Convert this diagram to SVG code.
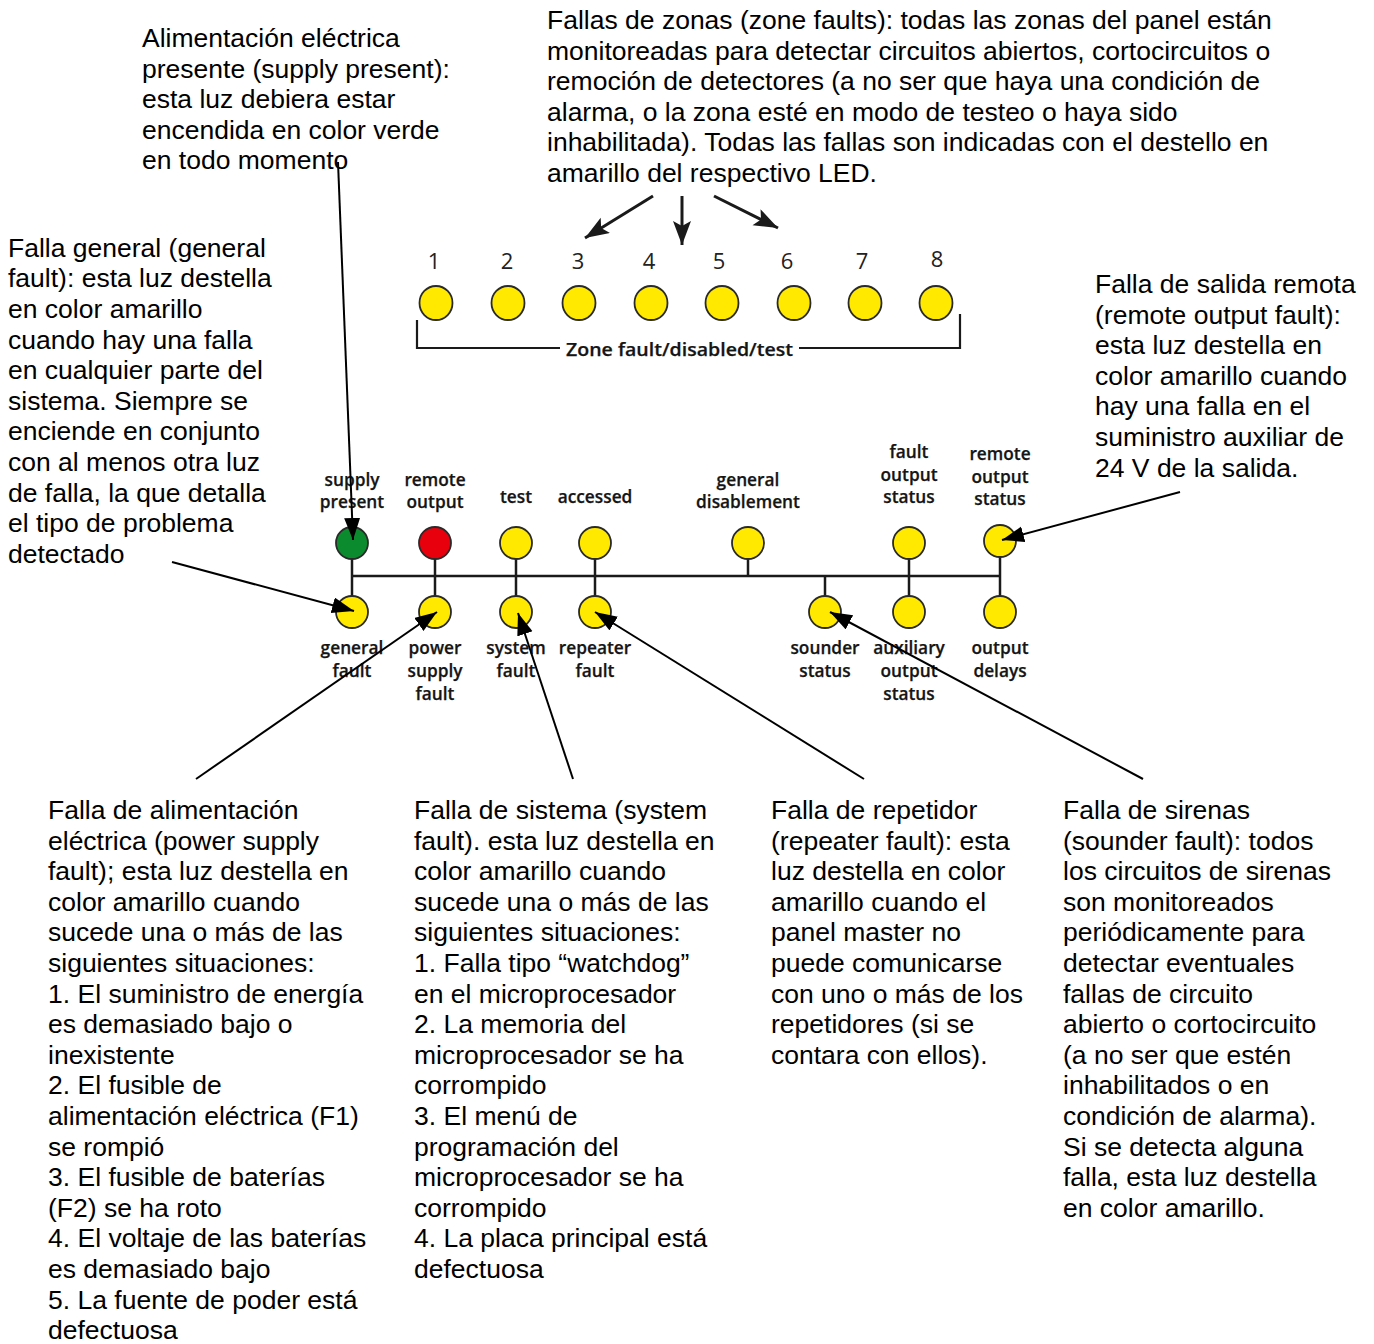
<svg xmlns="http://www.w3.org/2000/svg" width="1374" height="1344" viewBox="0 0 1374 1344">
  <style>
    .note { font-family: "Liberation Sans", Arial, sans-serif; font-size: 26.5px; fill: #000; }
    .lbl { font-family: "Open Sans", "Noto Sans", sans-serif; font-weight: 600; font-size: 17.3px; fill: #151515; text-anchor: middle; stroke: #151515; stroke-width: 0.25; }
    .num { font-family: "Open Sans", "Noto Sans", sans-serif; font-size: 22px; fill: #222; text-anchor: middle; }
    .led { stroke: #2a2a2a; stroke-width: 1.8; }
    .y { fill: #ffe900; }
    .g { fill: #0c8a2e; }
    .r { fill: #e8000c; }
    .wire { stroke: #1a1a1a; stroke-width: 2.5; fill: none; }
    .bracket { stroke: #1a1a1a; stroke-width: 2.2; fill: none; }
    .arrow { stroke: #000; stroke-width: 2; fill: none; marker-end: url(#head); }
    .zarrow { stroke: #1a1a1a; stroke-width: 3; fill: none; marker-end: url(#zhead); }
  </style>
  <defs>
    <marker id="head" markerUnits="userSpaceOnUse" markerWidth="24" markerHeight="18" refX="22" refY="8" orient="auto">
      <path d="M0,0 L22,8 L0,16 z" fill="#000"/>
    </marker>
    <marker id="zhead" markerUnits="userSpaceOnUse" markerWidth="26" markerHeight="20" refX="24" refY="9" orient="auto">
      <path d="M0,0 L24,9 L0,18 L5,9 z" fill="#1a1a1a"/>
    </marker>
  </defs>
  <rect width="1374" height="1344" fill="#fff"/>

  <!-- Zone LED row -->
  <g id="zone-leds">
    <g id="zone-1"><text class="num" x="434" y="269">1</text><ellipse class="led y" cx="436" cy="303" rx="16.5" ry="17"/></g>
    <g id="zone-2"><text class="num" x="507" y="269">2</text><ellipse class="led y" cx="508" cy="303" rx="16.5" ry="17"/></g>
    <g id="zone-3"><text class="num" x="578" y="269">3</text><ellipse class="led y" cx="579" cy="303" rx="16.5" ry="17"/></g>
    <g id="zone-4"><text class="num" x="649" y="269">4</text><ellipse class="led y" cx="651" cy="303" rx="16.5" ry="17"/></g>
    <g id="zone-5"><text class="num" x="719" y="269">5</text><ellipse class="led y" cx="722" cy="303" rx="16.5" ry="17"/></g>
    <g id="zone-6"><text class="num" x="787" y="269">6</text><ellipse class="led y" cx="794" cy="303" rx="16.5" ry="17"/></g>
    <g id="zone-7"><text class="num" x="862" y="269">7</text><ellipse class="led y" cx="865" cy="303" rx="16.5" ry="17"/></g>
    <g id="zone-8"><text class="num" x="937" y="267">8</text><ellipse class="led y" cx="936" cy="303" rx="16.5" ry="17"/></g>
    <g id="zone-bracket">
      <polyline class="bracket" points="417,320 417,348 560,348"/>
      <polyline class="bracket" points="799,348 960,348 960,314"/>
      <text class="lbl" x="679.5" y="356" font-size="19" textLength="227" lengthAdjust="spacingAndGlyphs">Zone fault/disabled/test</text>
    </g>
  </g>

  <!-- Panel wiring (drawn under the LEDs) -->
  <g id="bus">
    <line class="wire" x1="352" y1="576" x2="1000" y2="576"/>
    <line class="wire" x1="352" y1="543" x2="352" y2="612"/>
    <line class="wire" x1="435" y1="543" x2="435" y2="612"/>
    <line class="wire" x1="516" y1="543" x2="516" y2="612"/>
    <line class="wire" x1="595" y1="543" x2="595" y2="612"/>
    <line class="wire" x1="748" y1="543" x2="748" y2="576"/>
    <line class="wire" x1="825" y1="576" x2="825" y2="612"/>
    <line class="wire" x1="909" y1="543" x2="909" y2="612"/>
    <line class="wire" x1="1000" y1="541" x2="1000" y2="612"/>
  </g>

  <!-- Panel LEDs, top row -->
  <g id="led-supply-present"><text class="lbl" x="352" y="486">supply</text><text class="lbl" x="352" y="508">present</text><circle class="led g" cx="352" cy="543" r="16"/></g>
  <g id="led-remote-output"><text class="lbl" x="435" y="486">remote</text><text class="lbl" x="435" y="508">output</text><circle class="led r" cx="435" cy="543" r="16"/></g>
  <g id="led-test"><text class="lbl" x="516" y="503">test</text><circle class="led y" cx="516" cy="543" r="16"/></g>
  <g id="led-accessed"><text class="lbl" x="595" y="503">accessed</text><circle class="led y" cx="595" cy="543" r="16"/></g>
  <g id="led-general-disablement"><text class="lbl" x="748" y="486">general</text><text class="lbl" x="748" y="508">disablement</text><circle class="led y" cx="748" cy="543" r="16"/></g>
  <g id="led-fault-output-status"><text class="lbl" x="909" y="458">fault</text><text class="lbl" x="909" y="481">output</text><text class="lbl" x="909" y="503">status</text><circle class="led y" cx="909" cy="543" r="16"/></g>
  <g id="led-remote-output-status"><text class="lbl" x="1000" y="460">remote</text><text class="lbl" x="1000" y="483">output</text><text class="lbl" x="1000" y="505">status</text><circle class="led y" cx="1000" cy="541" r="16"/></g>

  <!-- Panel LEDs, bottom row -->
  <g id="led-general-fault"><circle class="led y" cx="352" cy="612" r="16"/><text class="lbl" x="352" y="654">general</text><text class="lbl" x="352" y="677">fault</text></g>
  <g id="led-power-supply-fault"><circle class="led y" cx="435" cy="612" r="16"/><text class="lbl" x="435" y="654">power</text><text class="lbl" x="435" y="677">supply</text><text class="lbl" x="435" y="700">fault</text></g>
  <g id="led-system-fault"><circle class="led y" cx="516" cy="612" r="16"/><text class="lbl" x="516" y="654">system</text><text class="lbl" x="516" y="677">fault</text></g>
  <g id="led-repeater-fault"><circle class="led y" cx="595" cy="612" r="16"/><text class="lbl" x="595" y="654">repeater</text><text class="lbl" x="595" y="677">fault</text></g>
  <g id="led-sounder-status"><circle class="led y" cx="825" cy="612" r="16"/><text class="lbl" x="825" y="654">sounder</text><text class="lbl" x="825" y="677">status</text></g>
  <g id="led-auxiliary-output-status"><circle class="led y" cx="909" cy="612" r="16"/><text class="lbl" x="909" y="654">auxiliary</text><text class="lbl" x="909" y="677">output</text><text class="lbl" x="909" y="700">status</text></g>
  <g id="led-output-delays"><circle class="led y" cx="1000" cy="612" r="16"/><text class="lbl" x="1000" y="654">output</text><text class="lbl" x="1000" y="677">delays</text></g>

  <!-- Explanatory notes -->
  <g id="note-supply-present">
    <text class="note" x="142" y="47">Alimentación eléctrica</text>
    <text class="note" x="142" y="77.6">presente (supply present):</text>
    <text class="note" x="142" y="108.2">esta luz debiera estar</text>
    <text class="note" x="142" y="138.8">encendida en color verde</text>
    <text class="note" x="142" y="169.4">en todo momento</text>
  </g>
  <g id="note-zone-faults">
    <text class="note" x="547" y="29">Fallas de zonas (zone faults): todas las zonas del panel están</text>
    <text class="note" x="547" y="59.6">monitoreadas para detectar circuitos abiertos, cortocircuitos o</text>
    <text class="note" x="547" y="90.2">remoción de detectores (a no ser que haya una condición de</text>
    <text class="note" x="547" y="120.8">alarma, o la zona esté en modo de testeo o haya sido</text>
    <text class="note" x="547" y="151.4">inhabilitada). Todas las fallas son indicadas con el destello en</text>
    <text class="note" x="547" y="182">amarillo del respectivo LED.</text>
  </g>
  <g id="note-general-fault">
    <text class="note" x="8" y="256.7">Falla general (general</text>
    <text class="note" x="8" y="287.3">fault): esta luz destella</text>
    <text class="note" x="8" y="317.9">en color amarillo</text>
    <text class="note" x="8" y="348.5">cuando hay una falla</text>
    <text class="note" x="8" y="379.1">en cualquier parte del</text>
    <text class="note" x="8" y="409.7">sistema. Siempre se</text>
    <text class="note" x="8" y="440.3">enciende en conjunto</text>
    <text class="note" x="8" y="470.9">con al menos otra luz</text>
    <text class="note" x="8" y="501.5">de falla, la que detalla</text>
    <text class="note" x="8" y="532.1">el tipo de problema</text>
    <text class="note" x="8" y="562.7">detectado</text>
  </g>
  <g id="note-remote-output-fault">
    <text class="note" x="1095" y="293">Falla de salida remota</text>
    <text class="note" x="1095" y="323.6">(remote output fault):</text>
    <text class="note" x="1095" y="354.2">esta luz destella en</text>
    <text class="note" x="1095" y="384.8">color amarillo cuando</text>
    <text class="note" x="1095" y="415.4">hay una falla en el</text>
    <text class="note" x="1095" y="446">suministro auxiliar de</text>
    <text class="note" x="1095" y="476.6">24 V de la salida.</text>
  </g>
  <g id="note-power-supply-fault">
    <text class="note" x="48" y="819">Falla de alimentación</text>
    <text class="note" x="48" y="849.6">eléctrica (power supply</text>
    <text class="note" x="48" y="880.2">fault); esta luz destella en</text>
    <text class="note" x="48" y="910.8">color amarillo cuando</text>
    <text class="note" x="48" y="941.4">sucede una o más de las</text>
    <text class="note" x="48" y="972">siguientes situaciones:</text>
    <text class="note" x="48" y="1002.6">1. El suministro de energía</text>
    <text class="note" x="48" y="1033.2">es demasiado bajo o</text>
    <text class="note" x="48" y="1063.8">inexistente</text>
    <text class="note" x="48" y="1094.4">2. El fusible de</text>
    <text class="note" x="48" y="1125">alimentación eléctrica (F1)</text>
    <text class="note" x="48" y="1155.6">se rompió</text>
    <text class="note" x="48" y="1186.2">3. El fusible de baterías</text>
    <text class="note" x="48" y="1216.8">(F2) se ha roto</text>
    <text class="note" x="48" y="1247.4">4. El voltaje de las baterías</text>
    <text class="note" x="48" y="1278">es demasiado bajo</text>
    <text class="note" x="48" y="1308.6">5. La fuente de poder está</text>
    <text class="note" x="48" y="1339.2">defectuosa</text>
  </g>
  <g id="note-system-fault">
    <text class="note" x="414" y="819">Falla de sistema (system</text>
    <text class="note" x="414" y="849.6">fault). esta luz destella en</text>
    <text class="note" x="414" y="880.2">color amarillo cuando</text>
    <text class="note" x="414" y="910.8">sucede una o más de las</text>
    <text class="note" x="414" y="941.4">siguientes situaciones:</text>
    <text class="note" x="414" y="972">1. Falla tipo “watchdog”</text>
    <text class="note" x="414" y="1002.6">en el microprocesador</text>
    <text class="note" x="414" y="1033.2">2. La memoria del</text>
    <text class="note" x="414" y="1063.8">microprocesador se ha</text>
    <text class="note" x="414" y="1094.4">corrompido</text>
    <text class="note" x="414" y="1125">3. El menú de</text>
    <text class="note" x="414" y="1155.6">programación del</text>
    <text class="note" x="414" y="1186.2">microprocesador se ha</text>
    <text class="note" x="414" y="1216.8">corrompido</text>
    <text class="note" x="414" y="1247.4">4. La placa principal está</text>
    <text class="note" x="414" y="1278">defectuosa</text>
  </g>
  <g id="note-repeater-fault">
    <text class="note" x="771" y="819">Falla de repetidor</text>
    <text class="note" x="771" y="849.6">(repeater fault): esta</text>
    <text class="note" x="771" y="880.2">luz destella en color</text>
    <text class="note" x="771" y="910.8">amarillo cuando el</text>
    <text class="note" x="771" y="941.4">panel master no</text>
    <text class="note" x="771" y="972">puede comunicarse</text>
    <text class="note" x="771" y="1002.6">con uno o más de los</text>
    <text class="note" x="771" y="1033.2">repetidores (si se</text>
    <text class="note" x="771" y="1063.8">contara con ellos).</text>
  </g>
  <g id="note-sounder-fault">
    <text class="note" x="1063" y="819">Falla de sirenas</text>
    <text class="note" x="1063" y="849.6">(sounder fault): todos</text>
    <text class="note" x="1063" y="880.2">los circuitos de sirenas</text>
    <text class="note" x="1063" y="910.8">son monitoreados</text>
    <text class="note" x="1063" y="941.4">periódicamente para</text>
    <text class="note" x="1063" y="972">detectar eventuales</text>
    <text class="note" x="1063" y="1002.6">fallas de circuito</text>
    <text class="note" x="1063" y="1033.2">abierto o cortocircuito</text>
    <text class="note" x="1063" y="1063.8">(a no ser que estén</text>
    <text class="note" x="1063" y="1094.4">inhabilitados o en</text>
    <text class="note" x="1063" y="1125">condición de alarma).</text>
    <text class="note" x="1063" y="1155.6">Si se detecta alguna</text>
    <text class="note" x="1063" y="1186.2">falla, esta luz destella</text>
    <text class="note" x="1063" y="1216.8">en color amarillo.</text>
  </g>

  <!-- Leader arrows from notes to LEDs -->
  <g id="connectors">
    <line class="zarrow" x1="653" y1="196" x2="585" y2="238"/>
    <line class="zarrow" x1="682" y1="196" x2="682" y2="245"/>
    <line class="zarrow" x1="714" y1="196" x2="778" y2="228"/>
    <line class="arrow" x1="338" y1="162" x2="353" y2="540"/>
    <line class="arrow" x1="172" y1="562" x2="354" y2="611"/>
    <line class="arrow" x1="1180" y1="492" x2="1002" y2="540"/>
    <line class="arrow" x1="196" y1="779" x2="437" y2="612"/>
    <line class="arrow" x1="573" y1="779" x2="518" y2="613"/>
    <line class="arrow" x1="864" y1="779" x2="595" y2="612"/>
    <line class="arrow" x1="1143" y1="779" x2="830" y2="612"/>
  </g>
</svg>
